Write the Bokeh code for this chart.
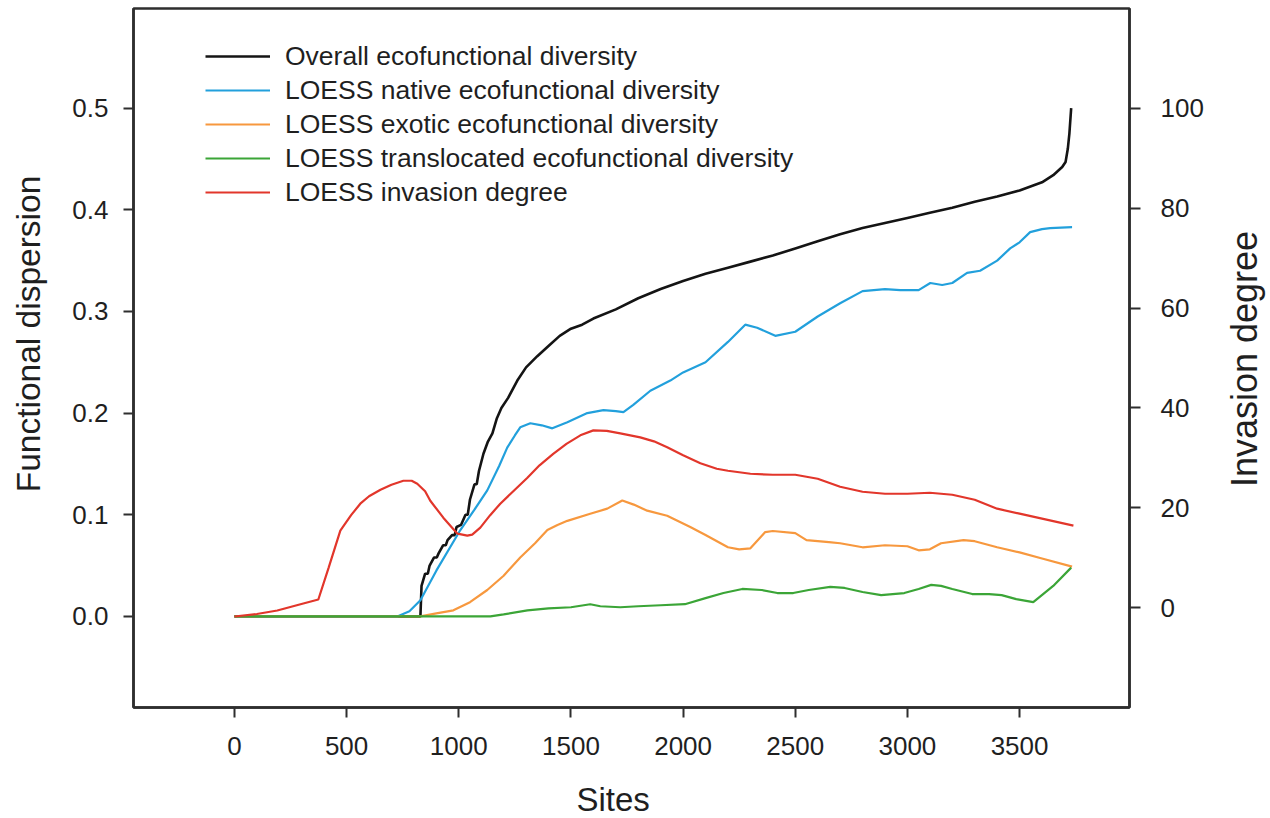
import math
from bokeh.plotting import figure
from bokeh.layouts import row, column
from bokeh.models import (Range1d, LinearAxis, FixedTicker, PrintfTickFormatter,
                          Legend, LegendItem, Label)
from bokeh.embed import file_html
from bokeh.resources import INLINE

# ---------------- data ----------------
overall_x = [0, 829, 834, 850, 862, 870, 890, 902, 910, 930, 942, 950, 970, 982, 990,
             1010, 1030, 1040, 1050, 1070, 1080, 1090, 1110, 1130, 1150, 1170, 1190,
             1220, 1261, 1300, 1350, 1400, 1450, 1500, 1550, 1600, 1700, 1800, 1900,
             2000, 2100, 2200, 2300, 2400, 2500, 2600, 2700, 2800, 2900, 3000, 3100,
             3200, 3300, 3400, 3500, 3600, 3650, 3690, 3705, 3715, 3722, 3730]
overall_y = [0, 0, 0.03, 0.042, 0.042, 0.05, 0.058, 0.058, 0.062, 0.07, 0.07, 0.075, 0.08,
             0.08, 0.088, 0.09, 0.1, 0.1, 0.115, 0.13, 0.13, 0.143, 0.16, 0.172, 0.18,
             0.195, 0.205, 0.215, 0.232, 0.245, 0.256, 0.266, 0.276, 0.283, 0.287, 0.293,
             0.302, 0.313, 0.322, 0.330, 0.337, 0.343, 0.349, 0.355, 0.362, 0.369, 0.376,
             0.382, 0.387, 0.392, 0.397, 0.402, 0.408, 0.413, 0.419, 0.427, 0.434, 0.442,
             0.447, 0.46, 0.475, 0.5]

native_x = [0, 726, 780, 829, 900, 1007, 1070, 1127, 1180, 1216, 1250, 1274, 1319, 1370,
            1417, 1484, 1573, 1645, 1700, 1734, 1778, 1854, 1943, 2000, 2100, 2200, 2277,
            2330, 2411, 2500, 2600, 2700, 2800, 2900, 2968, 3050, 3102, 3155, 3200, 3266,
            3324, 3400, 3458, 3500, 3547, 3600, 3636, 3734]
native_y = [0, 0, 0.005, 0.016, 0.045, 0.085, 0.105, 0.124, 0.148, 0.166, 0.178, 0.186,
            0.19, 0.188, 0.185, 0.191, 0.2, 0.203, 0.202, 0.201, 0.208, 0.222, 0.232, 0.24,
            0.25, 0.27, 0.287, 0.284, 0.276, 0.28, 0.295, 0.308, 0.32, 0.322, 0.321, 0.321,
            0.328, 0.326, 0.328, 0.338, 0.34, 0.35, 0.362, 0.368, 0.378, 0.381, 0.382, 0.383]

exotic_x = [0, 829, 900, 976, 1050, 1127, 1200, 1274, 1340, 1395, 1440, 1484, 1586, 1662,
            1729, 1780, 1840, 1929, 2032, 2100, 2200, 2250, 2300, 2366, 2400, 2500, 2550,
            2650, 2700, 2800, 2900, 3000, 3050, 3100, 3150, 3250, 3300, 3400, 3500, 3600,
            3734]
exotic_y = [0, 0, 0.003, 0.006, 0.014, 0.026, 0.04, 0.058, 0.072, 0.085, 0.09, 0.094,
            0.101, 0.106, 0.114, 0.11, 0.104, 0.099, 0.088, 0.08, 0.068, 0.066, 0.067,
            0.083, 0.084, 0.082, 0.075, 0.073, 0.072, 0.068, 0.07, 0.069, 0.065, 0.066,
            0.072, 0.075, 0.074, 0.068, 0.063, 0.057, 0.049]

transl_x = [0, 1141, 1200, 1306, 1400, 1500, 1586, 1631, 1720, 1800, 1900, 2008, 2100,
            2180, 2264, 2350, 2420, 2491, 2560, 2656, 2720, 2800, 2883, 2986, 3050, 3106,
            3150, 3200, 3289, 3364, 3420, 3485, 3561, 3650, 3730]
transl_y = [0, 0, 0.002, 0.006, 0.008, 0.009, 0.012, 0.01, 0.009, 0.01, 0.011, 0.012,
            0.018, 0.023, 0.027, 0.026, 0.023, 0.023, 0.026, 0.029, 0.028, 0.024, 0.021,
            0.023, 0.027, 0.031, 0.03, 0.027, 0.022, 0.022, 0.021, 0.017, 0.014, 0.03, 0.048]

invasion_x = [0, 100, 191, 307, 374, 420, 472, 520, 561, 600, 651, 700, 753, 790, 815,
              850, 873, 931, 994, 1038, 1060, 1096, 1140, 1185, 1250, 1306, 1360, 1421,
              1480, 1542, 1600, 1660, 1720, 1809, 1870, 1929, 2000, 2077, 2150, 2200, 2300,
              2400, 2500, 2600, 2700, 2800, 2900, 3000, 3100, 3200, 3300, 3400, 3500, 3600,
              3740]
invasion_y = [-1.8, -1.3, -0.6, 0.8, 1.6, 8, 15.4, 18.5, 20.8, 22.3, 23.6, 24.6, 25.4,
              25.4, 24.8, 23.3, 21.4, 18, 14.8, 14.4, 14.6, 16, 18.5, 20.8, 23.6, 26, 28.5,
              30.8, 32.8, 34.5, 35.5, 35.4, 34.9, 34.1, 33.3, 32.1, 30.5, 28.9, 27.8, 27.4,
              26.8, 26.6, 26.6, 25.8, 24.2, 23.2, 22.8, 22.8, 23, 22.6, 21.6, 19.8, 18.8,
              17.8, 16.4]

x_ticks = [0, 500, 1000, 1500, 2000, 2500, 3000, 3500]
left_ticks = [0.0, 0.1, 0.2, 0.3, 0.4, 0.5]
right_ticks = [0, 20, 40, 60, 80, 100]

series_names = ["Overall ecofunctional diversity",
                "LOESS native ecofunctional diversity",
                "LOESS exotic ecofunctional diversity",
                "LOESS translocated ecofunctional diversity",
                "LOESS invasion degree"]
x_title = "Sites"
left_title = "Functional dispersion"
right_title = "Invasion degree"

# ---------------- styling ----------------
FONT = "Liberation Sans"
TXT = "#1f1f1f"
AX = "#2e2e2e"
C_BLACK = "#141414"
C_BLUE = "#22a0dc"
C_ORANGE = "#f7983e"
C_GREEN = "#3ba537"
C_RED = "#e2362b"

LEFT_W, RIGHT_W, BOTTOM_H = 60, 45, 48
TOTAL_W, TOTAL_H = 1270, 818
MAIN_W = TOTAL_W - LEFT_W - RIGHT_W
MAIN_H = TOTAL_H - BOTTOM_H

p = figure(width=MAIN_W, height=MAIN_H, output_backend="svg", toolbar_location=None,
           x_range=Range1d(-450, 3990), y_range=Range1d(-0.0896, 0.598),
           min_border_left=133 - LEFT_W, min_border_right=MAIN_W + LEFT_W - 1129,
           min_border_top=8, min_border_bottom=MAIN_H - 707)
p.extra_y_ranges = {"inv": Range1d(-20.04, 120.04)}
p.background_fill_color = "white"
p.border_fill_color = "white"
p.xgrid.visible = False
p.ygrid.visible = False
p.outline_line_color = AX
p.outline_line_width = 2.5

r_black = p.line(overall_x, overall_y, line_color=C_BLACK, line_width=2.6)
r_blue = p.line(native_x, native_y, line_color=C_BLUE, line_width=2.2)
r_orange = p.line(exotic_x, exotic_y, line_color=C_ORANGE, line_width=2.2)
r_green = p.line(transl_x, transl_y, line_color=C_GREEN, line_width=2.2)
r_red = p.line(invasion_x, invasion_y, line_color=C_RED, line_width=2.2,
               y_range_name="inv")

right_axis = LinearAxis(y_range_name="inv")
p.add_layout(right_axis, "right")

def style_axis(ax, ticks, standoff, tick_out):
    ax.ticker = FixedTicker(ticks=ticks)
    ax.minor_tick_line_color = None
    ax.major_tick_in = 0
    ax.major_tick_out = tick_out
    ax.major_tick_line_width = 2
    ax.major_tick_line_color = AX
    ax.axis_line_color = AX
    ax.axis_line_width = 2.5
    ax.major_label_text_font = FONT
    ax.major_label_text_font_size = "26px"
    ax.major_label_text_color = TXT
    ax.major_label_standoff = standoff

style_axis(p.xaxis[0], x_ticks, 19, 10)
style_axis(p.yaxis[0], left_ticks, 15, 10)
p.yaxis[0].formatter = PrintfTickFormatter(format="%.1f")
style_axis(right_axis, right_ticks, 20, 11)

legend = Legend(items=[LegendItem(label=n, renderers=[r]) for n, r in
                       zip(series_names, [r_black, r_blue, r_orange, r_green, r_red])],
                location=(72, 498), orientation="vertical",
                label_text_font=FONT, label_text_font_size="26.5px",
                label_text_color=TXT, label_height=34, glyph_height=34,
                glyph_width=65, label_standoff=15, spacing=0, padding=0, margin=0,
                border_line_alpha=0, background_fill_alpha=0)
p.add_layout(legend)


def title_strip(w, h, text, x, y, size, angle):
    """A small text-only figure holding one axis title."""
    f = figure(width=w, height=h, output_backend="svg", toolbar_location=None,
               x_range=Range1d(0, w), y_range=Range1d(0, h), min_border=0,
               x_axis_location=None, y_axis_location=None)
    f.outline_line_color = None
    f.background_fill_color = "white"
    f.border_fill_color = "white"
    f.xgrid.visible = False
    f.ygrid.visible = False
    f.add_layout(Label(x=x, y=y, text=text, angle=angle, text_font=FONT,
                       text_font_size=size, text_color=TXT, text_align="center",
                       text_baseline="middle"))
    return f

left_strip = title_strip(LEFT_W, TOTAL_H, left_title, 28, TOTAL_H - 333.5,
                         "33.5px", math.pi / 2)
right_strip = title_strip(RIGHT_W, TOTAL_H, right_title, 18.5, TOTAL_H - 358.5,
                          "36px", math.pi / 2)
bottom_strip = title_strip(MAIN_W, BOTTOM_H, x_title, 621 - LEFT_W, BOTTOM_H - 29,
                           "33px", 0)

layout = row(left_strip, column(p, bottom_strip, spacing=0), right_strip, spacing=0)

open("out.html", "w").write(file_html(layout, INLINE))
